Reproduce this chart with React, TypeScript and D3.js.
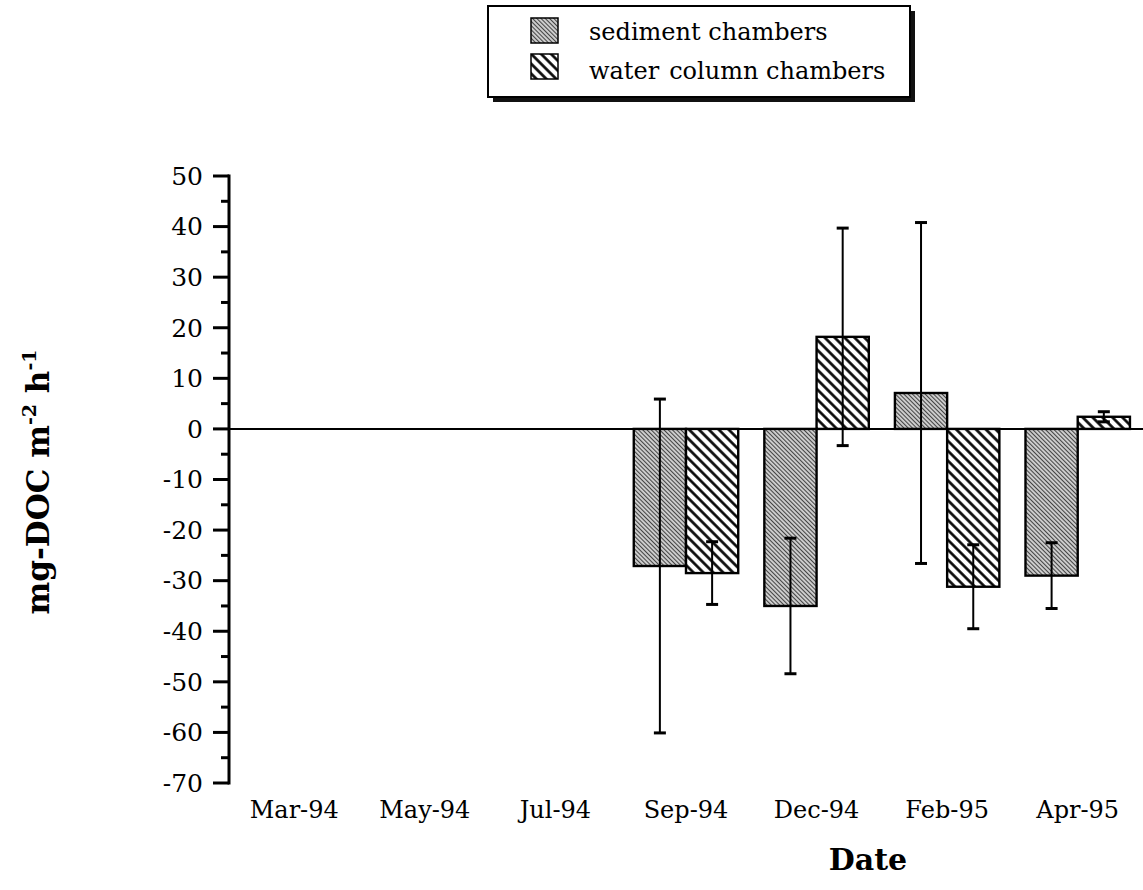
import React from "react";
import * as d3 from "d3";

// Monthly sampling dates on the x axis
const categories = ["Mar-94", "May-94", "Jul-94", "Sep-94", "Dec-94", "Feb-95", "Apr-95"];

// DOC flux (mg m^-2 h^-1) and error half-widths; null = not measured
const sedimentMean: (number | null)[] = [null, null, null, -27.1, -35.0, 7.1, -29.0];
const sedimentErr: (number | null)[] = [null, null, null, 33.0, 13.4, 33.7, 6.5];
const waterMean: (number | null)[] = [null, null, null, -28.5, 18.2, -31.2, 2.4];
const waterErr: (number | null)[] = [null, null, null, 6.2, 21.5, 8.3, 1.0];

const seriesKeys = ["sediment", "water"];
const legendLabels = [["sediment chambers"], ["water", "column chambers"]];

const yMajorTicks = d3.range(-70, 51, 10);
const yMinorTicks = d3.range(-65, 50, 10);

const W = 1143;
const H = 890;
const FONT = "'DejaVu Serif', 'Liberation Serif', serif";

export default function App() {
  const x = d3
    .scaleBand<string>()
    .domain(categories)
    .range([229, 1143])
    .paddingInner(0.2)
    .paddingOuter(0.1);
  const xs = d3.scaleBand<string>().domain(seriesKeys).range([0, x.bandwidth()]);
  const y = d3.scaleLinear().domain([-70, 50]).range([783, 176]);

  const axisX = 229;
  const capHalf = 6;

  const series = [
    { key: "sediment", mean: sedimentMean, err: sedimentErr, fill: "url(#sedPat)" },
    { key: "water", mean: waterMean, err: waterErr, fill: "url(#waterPat)" },
  ];

  return (
    <svg width={W} height={H} style={{ display: "block", position: "absolute", left: 0, top: 0 }}>
      <defs>
        <pattern id="sedPat" width={3} height={3} patternUnits="userSpaceOnUse" patternTransform="rotate(-45)">
          <rect width={3} height={3} fill="#cfcfcf" />
          <line x1={0.5} y1={0} x2={0.5} y2={3} stroke="#444" strokeWidth={1.1} />
        </pattern>
        <pattern id="waterPat" width={7} height={7} patternUnits="userSpaceOnUse" patternTransform="rotate(-45)">
          <rect width={7} height={7} fill="#fff" />
          <line x1={1.5} y1={0} x2={1.5} y2={7} stroke="#000" strokeWidth={2.6} />
        </pattern>
      </defs>
      <rect width={W} height={H} fill="#fff" />

      {/* legend */}
      <g>
        <rect x={493} y={11} width={422} height={91} fill="#111" />
        <rect x={488} y={6} width={422} height={91} fill="#fff" stroke="#000" strokeWidth={2} />
        {seriesKeys.map((k, i) => (
          <g key={k}>
            <rect
              x={531}
              y={18 + i * 36}
              width={27}
              height={25}
              fill={i === 0 ? "url(#sedPat)" : "url(#waterPat)"}
              stroke="#000"
              strokeWidth={1.5}
            />
            <text x={589} y={40 + i * 39} fontFamily={FONT} fontSize={24} fill="#000">
              {legendLabels[i].map((part, j) => (
                <tspan key={j} dx={j === 0 ? 0 : 10}>
                  {part}
                </tspan>
              ))}
            </text>
          </g>
        ))}
      </g>

      {/* bars */}
      {series.map((s) =>
        categories.map((c, i) => {
          const v = s.mean[i];
          if (v == null) return null;
          const x0 = (x(c) ?? 0) + (xs(s.key) ?? 0);
          const y0 = Math.min(y(v), y(0));
          const h = Math.abs(y(v) - y(0));
          return (
            <rect
              key={s.key + c}
              x={x0}
              y={y0}
              width={xs.bandwidth()}
              height={h}
              fill={s.fill}
              stroke="#000"
              strokeWidth={2.4}
            />
          );
        })
      )}

      {/* zero line */}
      <line x1={axisX} x2={W} y1={y(0)} y2={y(0)} stroke="#000" strokeWidth={2} />

      {/* error bars */}
      {series.map((s) =>
        categories.map((c, i) => {
          const v = s.mean[i];
          const e = s.err[i];
          if (v == null || e == null) return null;
          const cx = (x(c) ?? 0) + (xs(s.key) ?? 0) + xs.bandwidth() / 2;
          return (
            <g key={"e" + s.key + c} stroke="#000">
              <line x1={cx} x2={cx} y1={y(v + e)} y2={y(v - e)} strokeWidth={2} />
              <line x1={cx - capHalf} x2={cx + capHalf} y1={y(v + e)} y2={y(v + e)} strokeWidth={3} />
              <line x1={cx - capHalf} x2={cx + capHalf} y1={y(v - e)} y2={y(v - e)} strokeWidth={3} />
            </g>
          );
        })
      )}

      {/* y axis */}
      <line x1={axisX} x2={axisX} y1={y(50) - 1.5} y2={y(-70) + 1.5} stroke="#000" strokeWidth={3} />
      {yMajorTicks.map((t) => (
        <g key={"M" + t}>
          <line x1={axisX - 16} x2={axisX} y1={y(t)} y2={y(t)} stroke="#000" strokeWidth={3} />
          <text
            x={203}
            y={y(t)}
            dy="0.35em"
            textAnchor="end"
            fontFamily={FONT}
            fontSize={25}
            fill="#000"
          >
            {t}
          </text>
        </g>
      ))}
      {yMinorTicks.map((t) => (
        <line key={"m" + t} x1={axisX - 8} x2={axisX} y1={y(t)} y2={y(t)} stroke="#000" strokeWidth={3} />
      ))}

      {/* x labels */}
      {categories.map((c) => (
        <text
          key={"x" + c}
          x={(x(c) ?? 0) + x.bandwidth() / 2}
          y={818}
          textAnchor="middle"
          fontFamily={FONT}
          fontSize={24}
          fill="#000"
        >
          {c}
        </text>
      ))}

      {/* axis titles */}
      <text x={868} y={870} textAnchor="middle" fontFamily={FONT} fontSize={30} fontWeight="bold" fill="#000">
        Date
      </text>
      <text
        transform={`translate(49, 482) rotate(-90)`}
        textAnchor="middle"
        fontFamily={FONT}
        fontSize={31}
        fontWeight="bold"
        fill="#000"
      >
        mg-DOC m
        <tspan dy={-13} fontSize={19}>-2</tspan>
        <tspan dy={13}> h</tspan>
        <tspan dy={-13} fontSize={19}>-1</tspan>
      </text>
    </svg>
  );
}
